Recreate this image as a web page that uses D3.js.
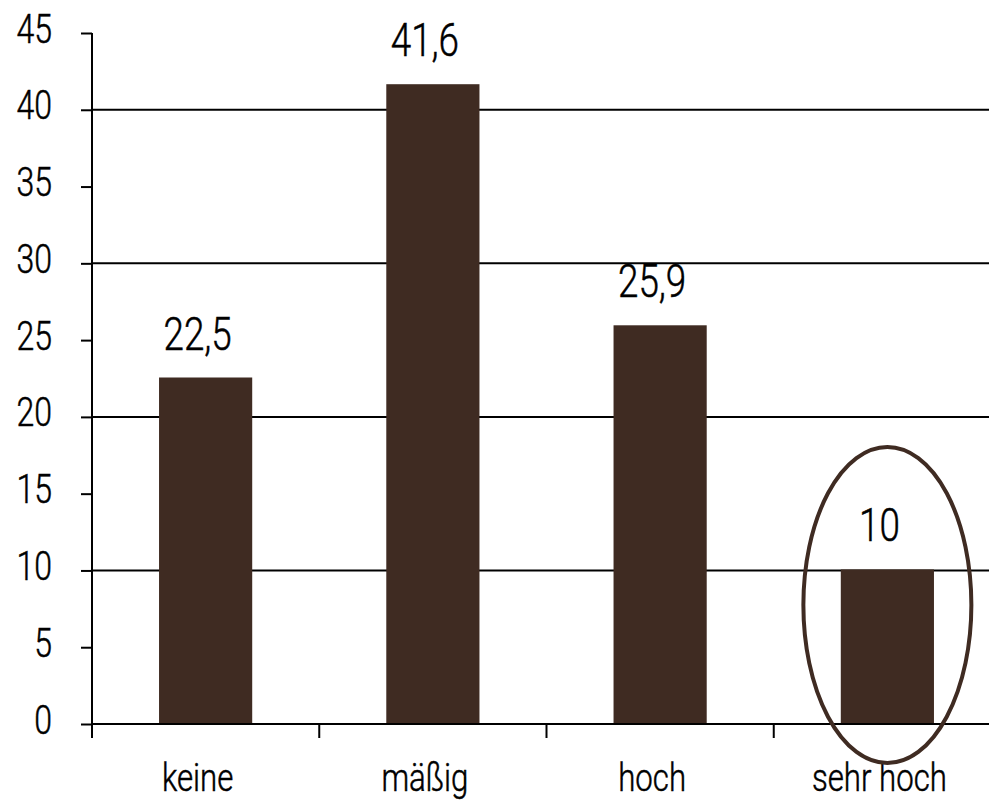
<!DOCTYPE html>
<html><head><meta charset="utf-8">
<script src="https://cdn.jsdelivr.net/npm/d3@7"></script>
<style>
body{margin:0;background:#fff;}
text{font-family:Roboto,"Liberation Sans",sans-serif;font-weight:300;fill:#000;stroke:#000;stroke-width:0.5px;}
</style></head><body>
<svg id="c" width="989" height="800"></svg>
<script>
const categories = ["keine","mäßig","hoch","sehr hoch"];
const values = [22.5, 41.6, 25.9, 10];
const valueLabels = ["22,5","41,6","25,9","10"];
const yTicks = [0,5,10,15,20,25,30,35,40,45];
const gridValues = [10,20,30,40];
const highlighted = "sehr hoch";

const svg = d3.select("#c");
const color = "#3f2b22";
const sx = 0.8;       // condensed look
const textShift = -8;
const x = d3.scaleBand().domain(categories).range([92, 1001]).padding(0);
const y = d3.scaleLinear().domain([0,45]).range([724, 33]);
const barW = x.bandwidth()*0.41;
const cx = c => x(c)+x.bandwidth()/2;

// gridlines
svg.selectAll("line.grid").data(gridValues).enter().append("line")
  .attr("x1",92).attr("x2",989).attr("y1",d=>y(d)).attr("y2",d=>y(d))
  .attr("stroke","#000").attr("stroke-width",2);

// bars
svg.selectAll("rect.bar").data(values).enter().append("rect")
  .attr("x",(d,i)=>cx(categories[i])-barW/2)
  .attr("width",barW)
  .attr("y",d=>y(d)-1).attr("height",d=>y(0)-y(d)+1)
  .attr("fill",color);

// value labels
svg.selectAll("text.val").data(values).enter().append("text")
  .attr("transform",(d,i)=>`translate(${cx(categories[i])+textShift},${y(d)-29}) scale(${sx},1)`)
  .attr("text-anchor","middle").attr("font-size",46)
  .text((d,i)=>valueLabels[i]);

// y axis
const yAxis = d3.axisLeft(y).tickValues(yTicks).tickSize(11).tickFormat(d3.format("d"));
const gy = svg.append("g").attr("transform","translate(92,0)").call(yAxis);
gy.select(".domain").attr("stroke","#000").attr("stroke-width",2).attr("d","M0,33V724");
gy.selectAll(".tick line").attr("stroke","#000").attr("stroke-width",2);
gy.selectAll(".tick text")
  .attr("x",null).attr("dy",null)
  .attr("transform",`translate(-40,9) scale(${sx},1)`)
  .attr("font-size",40).attr("font-family",null).attr("fill","#000");

// x axis
svg.append("line").attr("x1",91).attr("x2",989).attr("y1",y(0)).attr("y2",y(0)).attr("stroke","#000").attr("stroke-width",2);
const boundaries = categories.map(c=>x(c));
svg.selectAll("line.xt").data(boundaries).enter().append("line")
  .attr("x1",d=>d).attr("x2",d=>d).attr("y1",y(0)).attr("y2",y(0)+14)
  .attr("stroke","#000").attr("stroke-width",2);
svg.selectAll("text.cat").data(categories).enter().append("text")
  .attr("transform",d=>`translate(${cx(d)+textShift},791) scale(${sx},1)`)
  .attr("text-anchor","middle").attr("font-size",39)
  .text(d=>d);

// highlight ellipse
svg.append("ellipse").attr("cx",cx(highlighted)).attr("cy",605).attr("rx",84).attr("ry",158)
  .attr("fill","none").attr("stroke",color).attr("stroke-width",4);
</script></body></html>
